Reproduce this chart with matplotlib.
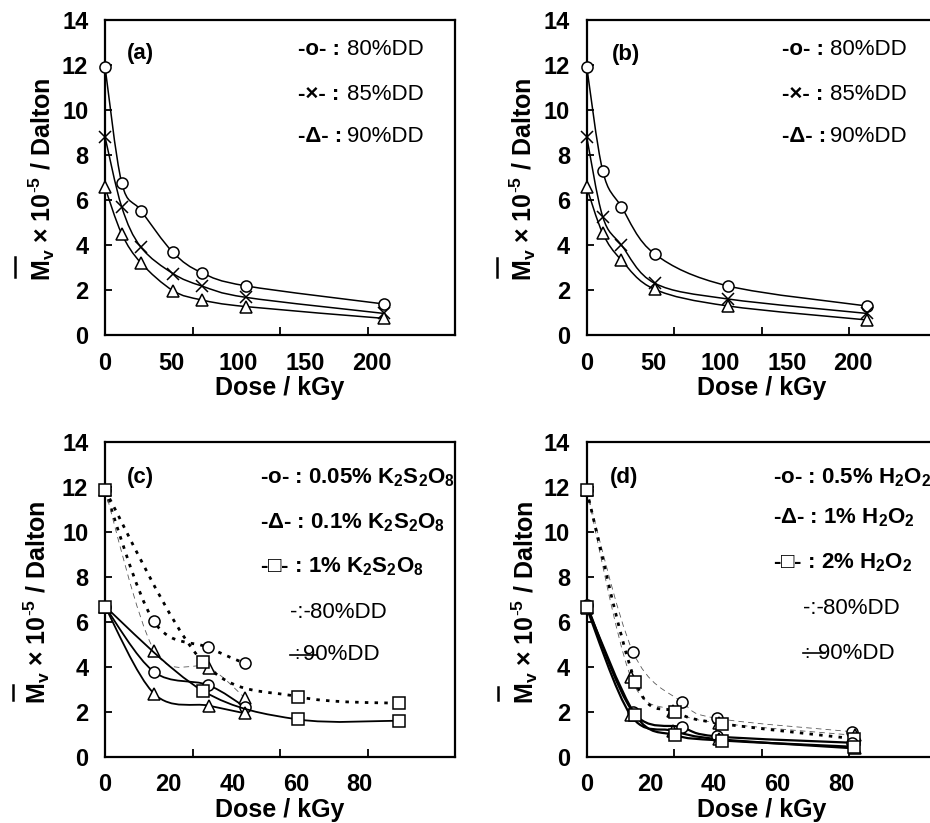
import numpy as np
import matplotlib
matplotlib.use('Agg')
import matplotlib.pyplot as plt
from matplotlib.path import Path
from matplotlib.patches import PathPatch
from matplotlib.lines import Line2D
from matplotlib.ticker import FixedLocator

plt.rcParams['font.family'] = ['Liberation Sans', 'DejaVu Sans']
plt.rcParams['mathtext.fontset'] = 'custom'
plt.rcParams['mathtext.rm'] = 'Liberation Sans'
plt.rcParams['mathtext.bf'] = 'Liberation Sans:bold'
plt.rcParams['mathtext.it'] = 'Liberation Sans:italic'
plt.rcParams['lines.scale_dashes'] = False

# ---------------- data ----------------
# Panel (a)
a_dose = [0, 12.5, 27, 51, 72.5, 106, 209]
a_80 = [11.93, 6.77, 5.53, 3.67, 2.77, 2.18, 1.38]
a_85 = [8.81, 5.70, 3.90, 2.73, 2.18, 1.67, 0.96]
a_90 = [6.56, 4.50, 3.20, 1.97, 1.56, 1.26, 0.74]
# Panel (b)
b_dose = [0, 12, 26, 51, 106, 210]
b_80 = [11.93, 7.30, 5.70, 3.60, 2.18, 1.29]
b_85 = [8.81, 5.26, 4.00, 2.30, 1.60, 0.96]
b_90 = [6.56, 4.52, 3.33, 2.03, 1.29, 0.67]
# Panel (c)  K2S2O8
c_circ_dose = [0, 15.3, 32.3, 43.9]
c_circ_80 = [11.85, 6.03, 4.86, 4.15]
c_circ_90 = [6.67, 3.78, 3.19, 2.22]
c_tri_dose = [0, 15.5, 32.6, 43.9]
c_tri_80 = [11.85, 4.71, 3.96, 2.62]
c_tri_90 = [6.67, 2.79, 2.27, 1.93]
c_sq_dose = [0, 30.7, 60.5, 92.5]
c_sq_80 = [11.85, 4.22, 2.67, 2.37]
c_sq_90 = [6.67, 2.93, 1.66, 1.60]
# Panel (d)  H2O2
d_circ_dose = [0, 14.5, 29.8, 41.1, 83.5]
d_circ_80 = [11.85, 4.67, 2.44, 1.70, 1.11]
d_circ_90 = [6.75, 2.00, 1.31, 0.90, 0.62]
d_tri_dose = [0, 13.8, 27.2, 41.5, 84.3]
d_tri_80 = [11.85, 3.56, 2.05, 1.50, 0.95]
d_tri_90 = [6.60, 1.85, 1.15, 0.78, 0.37]
d_sq_dose = [0, 15.3, 27.7, 42.4, 84.0]
d_sq_80 = [11.85, 3.33, 2.00, 1.47, 0.80]
d_sq_90 = [6.67, 1.85, 0.96, 0.72, 0.44]

# tick labels
ab_xticks = [0, 50, 100, 150, 200]
cd_xticks = [0, 20, 40, 60, 80]
y_ticks = [0, 2, 4, 6, 8, 10, 12, 14]

W, H = 930, 823
fig = plt.figure(figsize=(W / 100, H / 100), dpi=100)


def add_ax(left, top, width, height):
    return fig.add_axes([left / W, 1 - (top + height) / H, width / W, height / H])


def smooth_path(x, y):
    pts = np.column_stack([x, y]).astype(float)
    n = len(pts)
    verts = [pts[0]]
    codes = [Path.MOVETO]
    for i in range(n - 1):
        p0 = pts[i - 1] if i > 0 else pts[i]
        p1 = pts[i]
        p2 = pts[i + 1]
        p3 = pts[i + 2] if i + 2 < n else pts[i + 1]
        c1 = p1 + (p2 - p0) / 6.0
        c2 = p2 - (p3 - p1) / 6.0
        verts += [c1, c2, p2]
        codes += [Path.CURVE4] * 3
    return Path(verts, codes)


def series(ax, x, y, marker, ms, ls='-', lw=1.1, color='k', z=2):
    patch = PathPatch(smooth_path(x, y), fill=False, edgecolor=color, lw=lw,
                      linestyle=ls, zorder=z, clip_on=False)
    ax.add_patch(patch)
    ax.plot(x, y, ls='none', marker=marker, ms=ms, mfc='white', mec='k',
            mew=1.1, zorder=z + 2, clip_on=False)


def style_ax(ax, xmax, xticks):
    ax.set_xlim(0, xmax)
    ax.set_ylim(0, 14)
    for s in ax.spines.values():
        s.set_linewidth(1.6)
    ax.set_yticks(y_ticks)
    ax.set_xticks(xticks)
    ax.xaxis.set_minor_locator(FixedLocator([xmax * k / 4 for k in (1, 2, 3)]))
    ax.tick_params(axis='y', direction='in', length=5, width=1.3, pad=12,
                   labelsize=17)
    ax.tick_params(axis='x', which='major', length=0, pad=12, labelsize=17)
    ax.tick_params(axis='x', which='minor', direction='in', length=6, width=1.3)
    for lab in ax.get_xticklabels() + ax.get_yticklabels():
        lab.set_fontweight('bold')
    ax.set_xlabel('Dose / kGy', fontsize=18, fontweight='bold', labelpad=1)


YLAB = r'M$_\mathbf{v}$ × 10$^{\text{-}\mathbf{5}}$ / Dalton'


def ylabel(xc, yc, bar_x, bar_y0, bar_y1):
    fig.text(xc / W, 1 - yc / H, YLAB, rotation=90, ha='center', va='center',
             fontsize=18, fontweight='bold')
    fig.add_artist(Line2D([bar_x / W, bar_x / W], [1 - bar_y0 / H, 1 - bar_y1 / H],
                          color='k', lw=1.8, transform=fig.transFigure))


# ---------------- (a) ----------------
axa = add_ax(105, 20, 350, 315)
style_ax(axa, 262.5, ab_xticks)
series(axa, a_dose, a_80, 'o', 8)
series(axa, a_dose, a_85, 'x', 9)
series(axa, a_dose, a_90, '^', 8.5)
ylabel(42, 179, 15, 257, 277)

# ---------------- (b) ----------------
axb = add_ax(586.7, 20, 350, 315)
style_ax(axb, 262.5, ab_xticks)
series(axb, b_dose, b_80, 'o', 8)
series(axb, b_dose, b_85, 'x', 9)
series(axb, b_dose, b_90, '^', 8.5)
ylabel(523, 179, 497, 258, 277)

# ---------------- (c) ----------------
axc = add_ax(105, 441.7, 350, 315)
style_ax(axc, 110, cd_xticks)
dot = (0, (2.5, 4.5))
thin = (0, (4, 3))
series(axc, c_circ_dose, c_circ_80, 'o', 8, ls=dot, lw=2.0)
series(axc, c_tri_dose, c_tri_80, '^', 8.5, ls=thin, lw=0.6, color='0.35')
series(axc, c_sq_dose, c_sq_80, 's', 8, ls=dot, lw=2.0)
series(axc, c_circ_dose, c_circ_90, 'o', 8, lw=1.3)
series(axc, c_tri_dose, c_tri_90, '^', 8.5, lw=1.3)
series(axc, c_sq_dose, c_sq_90, 's', 8, lw=1.3, z=4)
ylabel(37, 602, 13, 685, 700)

# ---------------- (d) ----------------
axd = add_ax(586.7, 441.7, 350, 315)
style_ax(axd, 110, cd_xticks)
series(axd, d_circ_dose, d_circ_80, 'o', 8, ls=thin, lw=0.6, color='0.35')
series(axd, d_tri_dose, d_tri_80, '^', 8.5, ls=thin, lw=0.6, color='0.35')
series(axd, d_sq_dose, d_sq_80, 's', 8, ls=dot, lw=2.0)
series(axd, d_circ_dose, d_circ_90, 'o', 8, lw=1.6)
series(axd, d_tri_dose, d_tri_90, '^', 8.5, lw=1.6)
series(axd, d_sq_dose, d_sq_90, 's', 8, lw=1.6, z=4)
ylabel(525, 602, 498, 687, 700)

# ---------------- legends / labels as text ----------------
axa.text(0.063, 0.895, '(a)', transform=axa.transAxes, fontsize=16,
         fontweight='bold', va='center')
axb.text(0.071, 0.889, '(b)', transform=axb.transAxes, fontsize=16,
         fontweight='bold', va='center')
axc.text(0.063, 0.885, '(c)', transform=axc.transAxes, fontsize=16,
         fontweight='bold', va='center')
axd.text(0.067, 0.885, '(d)', transform=axd.transAxes, fontsize=16,
         fontweight='bold', va='center')

ab_syms = ['-o- :', '-×- :', '-Δ- :']
ab_names = ['80%DD', '85%DD', '90%DD']
ab_ys = [0.905, 0.762, 0.629]
for ax, x0, x1 in ((axa, 0.551, 0.691), (axb, 0.557, 0.695)):
    for s, n, y in zip(ab_syms, ab_names, ab_ys):
        ax.text(x0, y, s, transform=ax.transAxes, fontsize=16,
                fontweight='bold', va='center')
        ax.text(x1, y, n, transform=ax.transAxes, fontsize=16, va='center')

c_legend = [r'-o- : 0.05% K$_\mathbf{2}$S$_\mathbf{2}$O$_\mathbf{8}$',
            r'-Δ- : 0.1% K$_\mathbf{2}$S$_\mathbf{2}$O$_\mathbf{8}$',
            r'-□- : 1% K$_\mathbf{2}$S$_\mathbf{2}$O$_\mathbf{8}$']
d_legend = [r'-o- : 0.5% H$_\mathbf{2}$O$_\mathbf{2}$',
            r'-Δ- : 1% H$_\mathbf{2}$O$_\mathbf{2}$',
            r'-□- : 2% H$_\mathbf{2}$O$_\mathbf{2}$']
for s, y in zip(c_legend, [0.885, 0.743, 0.603]):
    axc.text(0.443, y, s, transform=axc.transAxes, fontsize=16,
             fontweight='bold', va='center')
for s, y in zip(d_legend, [0.885, 0.758, 0.615]):
    axd.text(0.532, y, s, transform=axd.transAxes, fontsize=16,
             fontweight='bold', va='center', clip_on=False)

for ax, xs, x80, y80, xl0, xl1, x90, y90 in (
        (axc, 0.529, 0.585, 0.459, 0.529, 0.605, 0.566, 0.323),
        (axd, 0.618, 0.674, 0.469, 0.618, 0.681, 0.661, 0.329)):
    ax.text(xs, y80, '-:-', transform=ax.transAxes, fontsize=16, va='center')
    ax.text(x80, y80, '80%DD', transform=ax.transAxes, fontsize=16, va='center')
    ax.add_line(Line2D([xl0, xl1], [y90, y90], transform=ax.transAxes,
                       color='k', lw=1.2))
    ax.text((xl0 + xl1) / 2 - 0.02, y90, ':', transform=ax.transAxes,
            fontsize=14, va='center', ha='center')
    ax.text(x90, y90, '90%DD', transform=ax.transAxes, fontsize=16, va='center')

fig.savefig('out.png', dpi=100)
